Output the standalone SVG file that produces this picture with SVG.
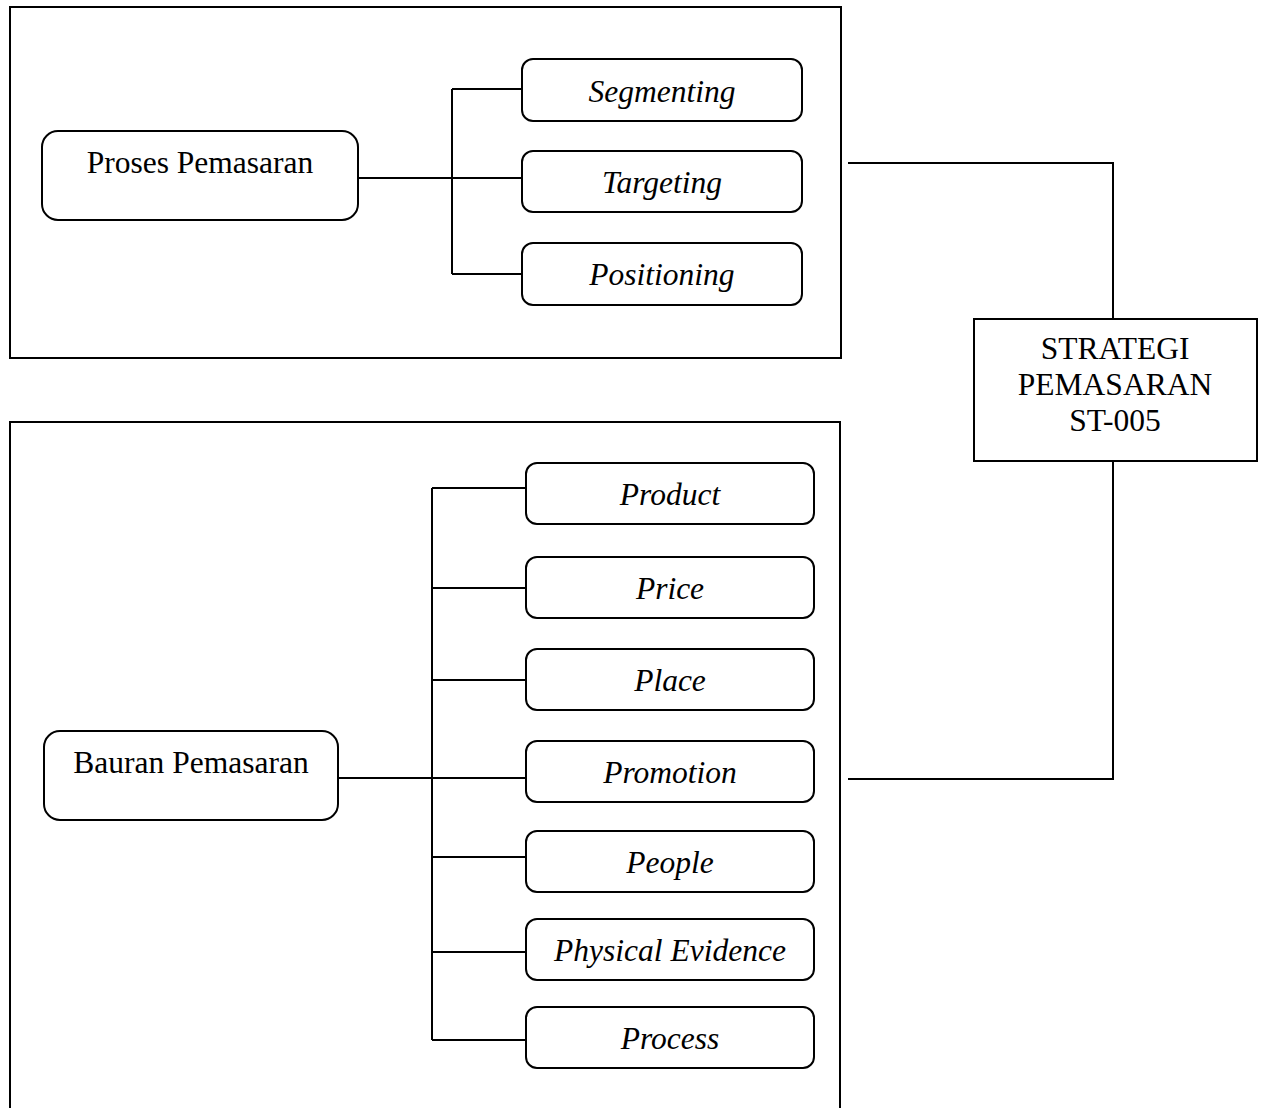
<svg xmlns="http://www.w3.org/2000/svg" width="1263" height="1108" viewBox="0 0 1263 1108">
<style>
.frame{fill:none;stroke:#000;stroke-width:2}
.node{fill:#fff;stroke:#000;stroke-width:2}
.conn{fill:none;stroke:#000;stroke-width:2}
.t{font-family:"Liberation Serif","Times New Roman",serif;font-size:31.5px;fill:#000;text-anchor:middle}
.i{font-style:italic}
</style>
<rect width="1263" height="1108" fill="#fff"/>
<g id="frame-top"><rect class="frame" x="10" y="7" width="831" height="351"/></g>
<g id="frame-bottom"><rect class="frame" x="10" y="422" width="830" height="720"/></g>
<g id="connectors">
<path class="conn" d="M358 178 H452 M452 89 V274 M452 89 H522 M452 178 H522 M452 274 H522"/>
<path class="conn" d="M338 778 H432 M432 488 V1040 M432 488 H526 M432 588 H526 M432 680 H526 M432 778 H526 M432 857 H526 M432 952 H526 M432 1040 H526"/>
<path class="conn" d="M848 163 H1113 V319 M1113 461 V779 H848"/>
</g>
<g id="proses"><rect class="node" x="42" y="131" width="316" height="89" rx="16"/><text class="t" x="200" y="173">Proses Pemasaran</text></g>
<g id="segmenting"><rect class="node" x="522" y="59" width="280" height="62" rx="11"/><text class="t i" x="662" y="102">Segmenting</text></g>
<g id="targeting"><rect class="node" x="522" y="151" width="280" height="61" rx="11"/><text class="t i" x="662" y="193">Targeting</text></g>
<g id="positioning"><rect class="node" x="522" y="243" width="280" height="62" rx="11"/><text class="t i" x="662" y="285">Positioning</text></g>
<g id="strategi"><rect class="node" x="974" y="319" width="283" height="142"/>
<text class="t" x="1115" y="359">STRATEGI</text><text class="t" x="1115" y="395">PEMASARAN</text><text class="t" x="1115" y="431">ST-005</text></g>
<g id="bauran"><rect class="node" x="44" y="731" width="294" height="89" rx="16"/><text class="t" x="191" y="773">Bauran Pemasaran</text></g>
<g id="product"><rect class="node" x="526" y="463" width="288" height="61" rx="11"/><text class="t i" x="670" y="505">Product</text></g>
<g id="price"><rect class="node" x="526" y="557" width="288" height="61" rx="11"/><text class="t i" x="670" y="599">Price</text></g>
<g id="place"><rect class="node" x="526" y="649" width="288" height="61" rx="11"/><text class="t i" x="670" y="691">Place</text></g>
<g id="promotion"><rect class="node" x="526" y="741" width="288" height="61" rx="11"/><text class="t i" x="670" y="783">Promotion</text></g>
<g id="people"><rect class="node" x="526" y="831" width="288" height="61" rx="11"/><text class="t i" x="670" y="873">People</text></g>
<g id="physical"><rect class="node" x="526" y="919" width="288" height="61" rx="11"/><text class="t i" x="670" y="961">Physical Evidence</text></g>
<g id="process"><rect class="node" x="526" y="1007" width="288" height="61" rx="11"/><text class="t i" x="670" y="1049">Process</text></g>
</svg>
